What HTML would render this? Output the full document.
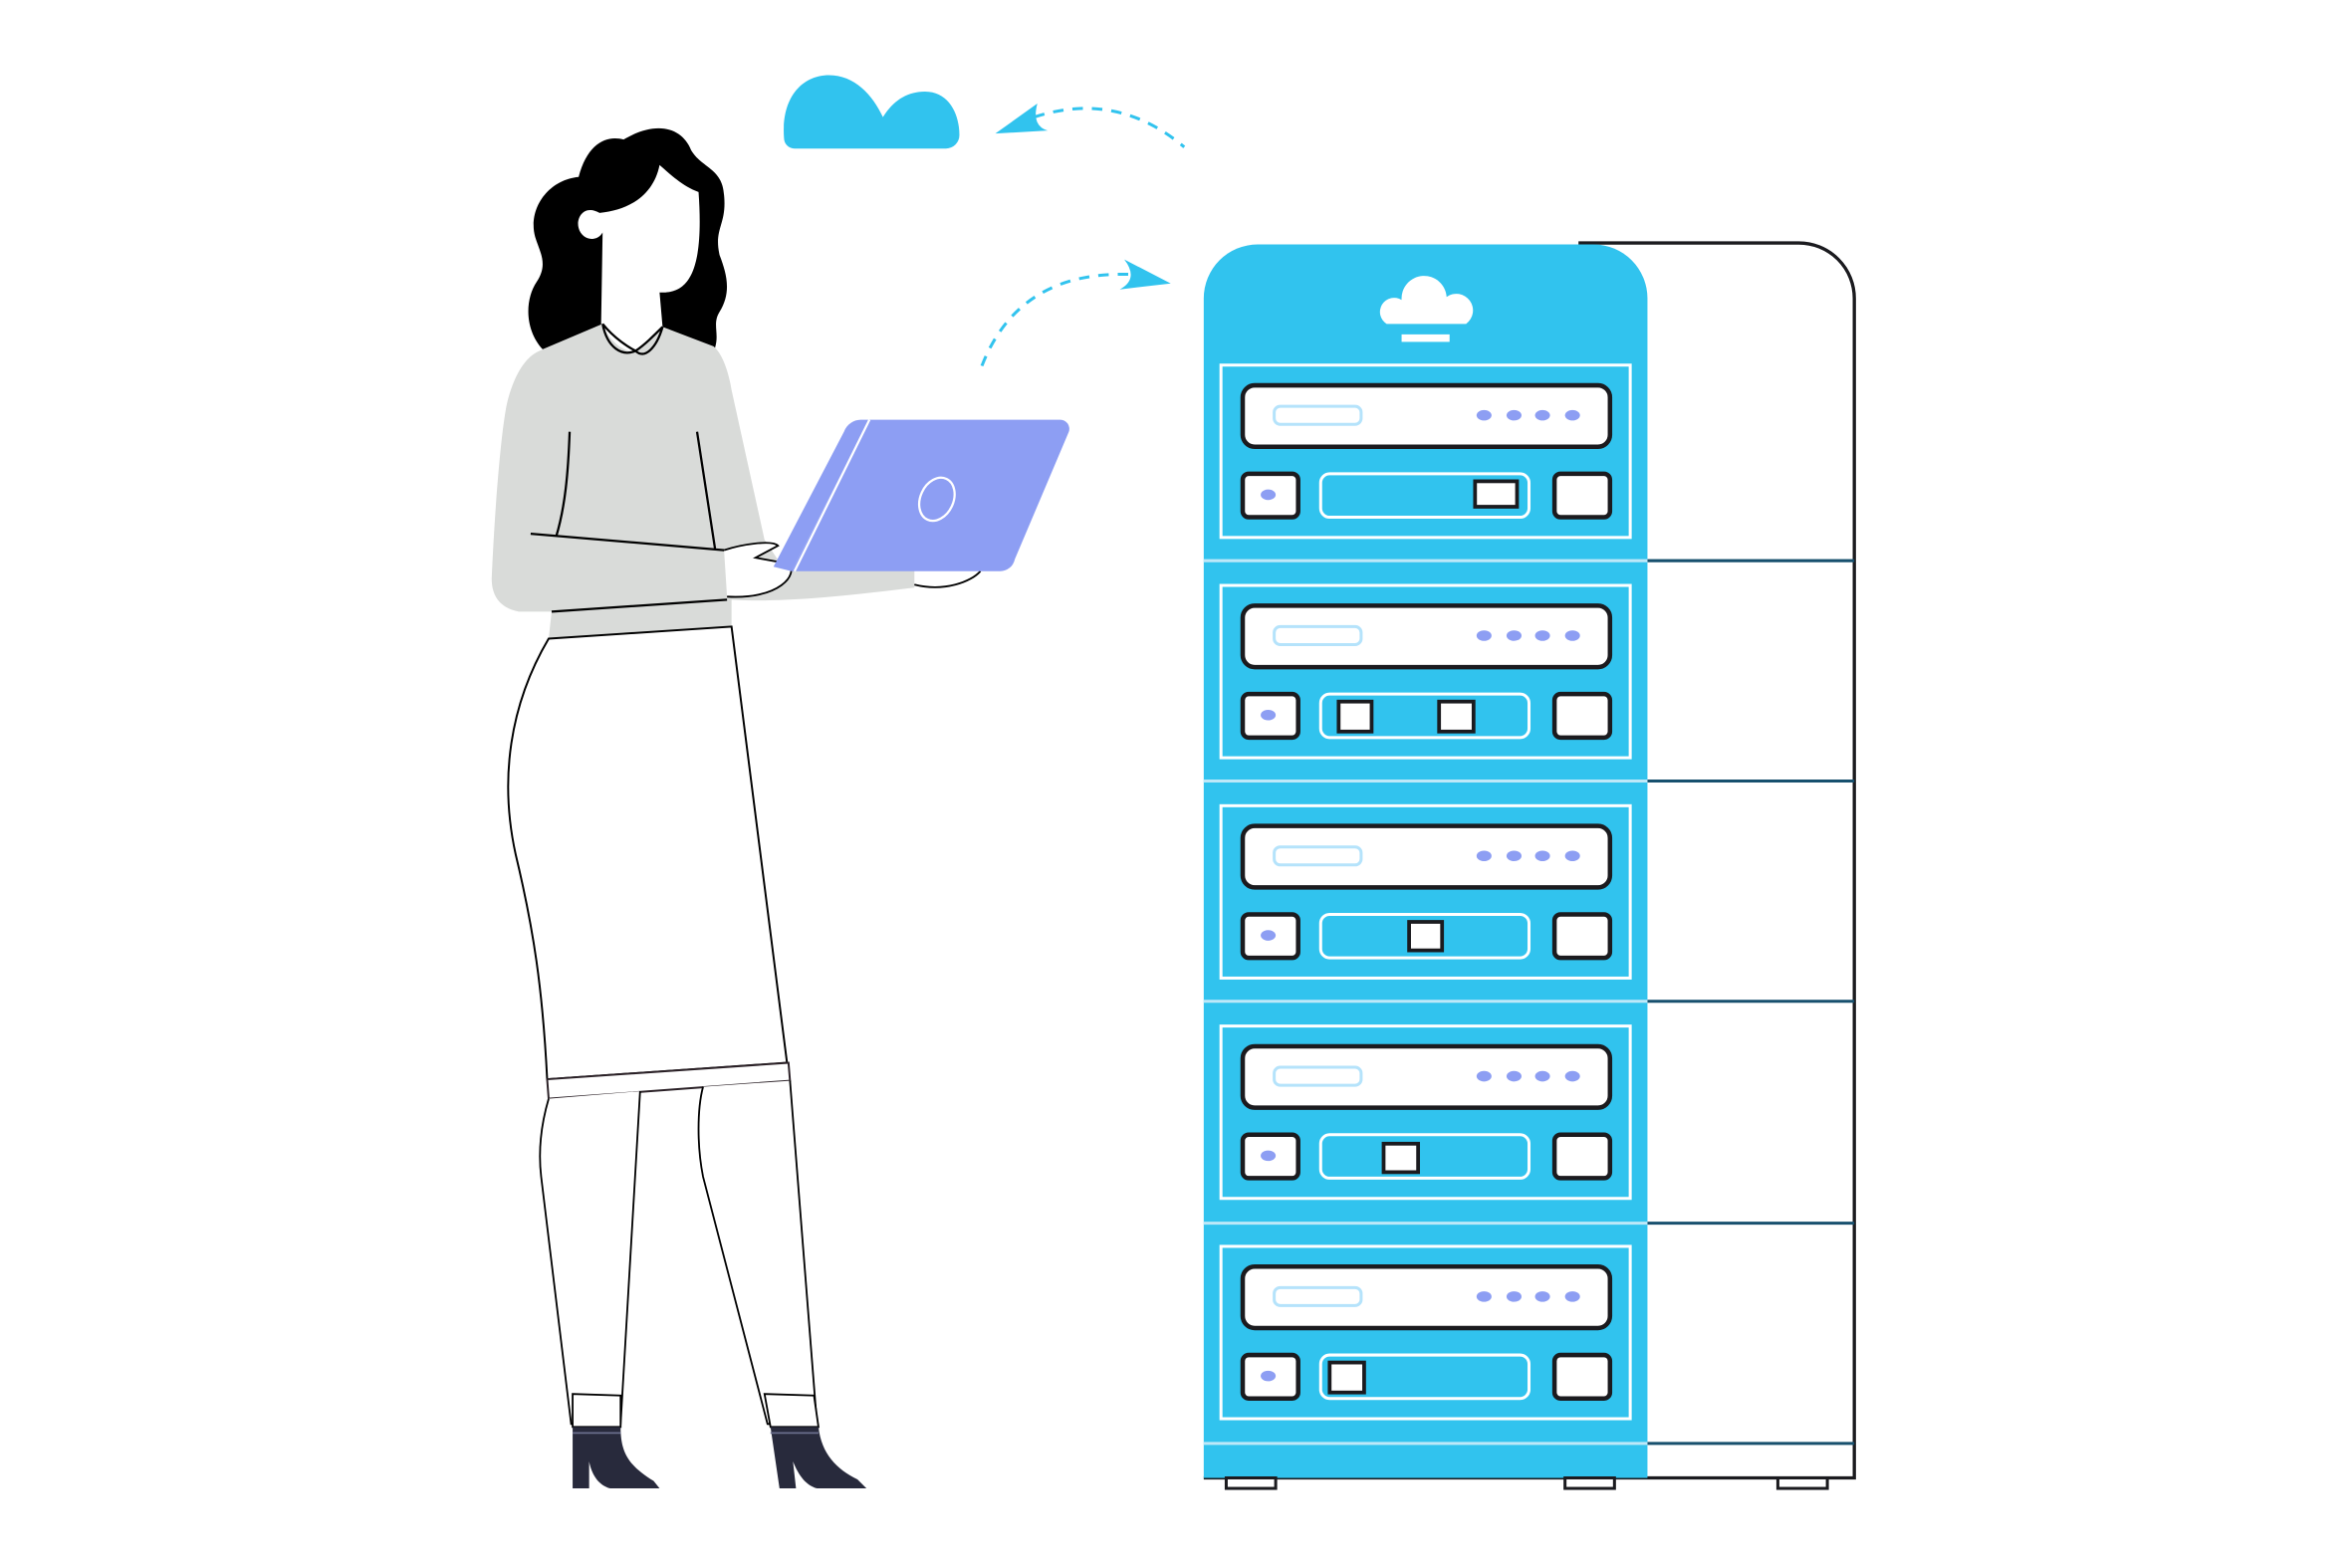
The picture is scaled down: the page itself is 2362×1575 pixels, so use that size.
<!DOCTYPE html>
<html><head><meta charset="utf-8"><style>html,body{margin:0;padding:0;background:#fff}svg{display:block}</style></head><body>
<svg width="2362" height="1575" viewBox="0 0 1569 1046" xmlns="http://www.w3.org/2000/svg">
<rect width="1569" height="1046" fill="#fff"/>
<!-- back frame -->
<path d="M1053 162 H1200 A37 37 0 0 1 1237 199 V986 H803" fill="none" stroke="#1b1b1f" stroke-width="2.2"/>
<g stroke="#17506e" stroke-width="2"><line x1="1099" y1="374" x2="1237" y2="374"/><line x1="1099" y1="521" x2="1237" y2="521"/><line x1="1099" y1="668" x2="1237" y2="668"/><line x1="1099" y1="816" x2="1237" y2="816"/><line x1="1099" y1="963" x2="1237" y2="963"/></g>
<!-- tower -->
<path d="M803 986 V199 A36 36 0 0 1 839 163 H1063 A36 36 0 0 1 1099 199 V986 Z" fill="#31c3ee"/>
<g stroke="#bde8f8" stroke-width="2"><line x1="803" y1="374" x2="1099" y2="374"/><line x1="803" y1="521" x2="1099" y2="521"/><line x1="803" y1="668" x2="1099" y2="668"/><line x1="803" y1="816" x2="1099" y2="816"/><line x1="803" y1="963" x2="1099" y2="963"/></g>
<path d="M925 216 A9 9 0 1 1 935 200 A15 15 0 0 1 965 198 A10 10 0 0 1 978 216 Z" fill="#fff"/>
<rect x="935" y="223" width="32" height="5" fill="#fff"/>
<g id="m">
<rect x="814.5" y="243.5" width="273" height="115" fill="none" stroke="#fff" stroke-width="2"/>
<rect x="829" y="257" width="245" height="41" rx="8" fill="#fff" stroke="#1b1b1f" stroke-width="3"/>
<rect x="850" y="271" width="58" height="12" rx="4" fill="none" stroke="#b5e3fb" stroke-width="2"/>
<g fill="#8d9ef3"><ellipse cx="990" cy="277" rx="5" ry="3.5"/><ellipse cx="1010" cy="277" rx="5" ry="3.5"/><ellipse cx="1029" cy="277" rx="5" ry="3.5"/><ellipse cx="1049" cy="277" rx="5" ry="3.5"/></g>
<rect x="829" y="316" width="37" height="29" rx="4" fill="#fff" stroke="#1b1b1f" stroke-width="3"/>
<ellipse cx="846" cy="330" rx="5" ry="3.5" fill="#8d9ef3"/>
<rect x="881" y="316" width="139" height="29" rx="6" fill="none" stroke="#fff" stroke-width="2"/>
<rect x="1037" y="316" width="37" height="29" rx="4" fill="#fff" stroke="#1b1b1f" stroke-width="3"/>
</g>
<use href="#m" y="147"/><use href="#m" y="294"/><use href="#m" y="441"/><use href="#m" y="588"/>
<g fill="#fff" stroke="#1b1b1f" stroke-width="2.5">
<rect x="984" y="321" width="28" height="17"/>
<rect x="893" y="468" width="22" height="20"/><rect x="960" y="468" width="23" height="20"/>
<rect x="940" y="615" width="22" height="19"/>
<rect x="923" y="763" width="23" height="19"/>
<rect x="887" y="909" width="23" height="20"/>
</g>
<g fill="#fff" stroke="#1b1b1f" stroke-width="2"><rect x="818" y="986" width="33" height="7"/><rect x="1044" y="986" width="33" height="7"/><rect x="1186" y="986" width="33" height="7"/></g>
<!-- cloud & arrows -->
<path d="M530 99 A7 7 0 0 1 523 92 C521 65 535 50 553 50 C570 50 582 63 589 78 C596 67 605 61 617 61 C633 61 640 76 640 90 A9 9 0 0 1 631 99 Z" fill="#31c3ee"/>
<path d="M690 78 Q745 60 790 98" fill="none" stroke="#31c3ee" stroke-width="2" stroke-dasharray="7 6"/>
<path d="M664 89 L692 69 Q688 84 699 87 Z" fill="#31c3ee"/>
<path d="M655 244 Q680 180 755 183" fill="none" stroke="#31c3ee" stroke-width="2" stroke-dasharray="7 6"/>
<path d="M781 189 L750 173 Q760 186 747 193 Z" fill="#31c3ee"/>
<!-- woman -->
<path d="M362 233 C350 220 350 200 358 188 C366 176 360 168 357 158 C352 140 365 120 386 118 C392 95 405 90 416 93 C438 80 455 85 461 100 C468 112 482 112 483 130 C485 150 476 152 480 170 C485 183 488 195 480 208 C475 216 480 222 477 232 L442 218 L402 216 Z" fill="#000"/>
<path d="M402 155 L401 216 C410 228 418 234 424 234 C432 228 438 222 442 218 L440 195 C458 196 470 184 466 128 C455 124 447 116 440 110 C436 130 420 140 400 142 C390 136 384 145 386 152 C388 160 398 162 402 155 Z" fill="#fff"/>
<path d="M360 234 L402 216 C406 228 418 236 424 234 C432 228 438 222 442 218 L476 231 C482 236 486 248 488 260 L510 360 L520 375 L610 380 L610 392 C560 398 520 402 488 400 L488 418 L366 426 L368 408 L346 408 C336 406 328 400 328 386 C330 340 334 290 338 270 C342 252 350 238 360 234 Z" fill="#d9dbd9"/>
<path d="M402 216 C405 232 415 238 424 234 M442 218 C438 232 430 240 424 234 M402 216 C410 226 420 232 424 234 C430 230 436 224 442 218" fill="none" stroke="#000" stroke-width="1.5"/>
<path d="M380 288 C379 316 377 338 371 358 M465 288 L477 366 M354 356 L483 367 M368 408 L485 400" fill="none" stroke="#000" stroke-width="1.5"/>
<path d="M483 367 C495 363 515 360 519 364 L504 372 L526 376 C533 383 520 400 485 398" fill="#fff" stroke="#000" stroke-width="1.2"/>
<path d="M610 390 C630 395 648 388 654 381" fill="none" stroke="#000" stroke-width="1.2"/>
<!-- laptop -->
<path d="M580 280 H707 A6 6 0 0 1 713 288 L677 373 A10 10 0 0 1 667 381 H528 Z" fill="#8d9ef3"/>
<path d="M580 280 H575 A12 12 0 0 0 563 288 L516 378 L528 381 Z" fill="#8d9ef3"/>
<line x1="580" y1="280" x2="530" y2="381" stroke="#fff" stroke-width="1.5"/>
<ellipse cx="625" cy="333" rx="11" ry="15" transform="rotate(25 625 333)" fill="none" stroke="#fff" stroke-width="1.5"/>
<!-- skirt -->
<path d="M366 426 L488 418 L525 709 L365 720 C362 660 356 620 344 570 C333 520 340 470 366 426 Z" fill="#fff" stroke="#000" stroke-width="1.3"/>
<path d="M365 720 L526 709 L527 721 L366 733 Z" fill="#fff" stroke="#2a2026" stroke-width="1.3"/>
<!-- legs -->
<path d="M366 733 C361 750 359 768 361 785 L381 950 L414 950 L427 728 M469 725 C465 740 465 765 469 785 L512 950 L545 950 L527 721" fill="#fff" stroke="#000" stroke-width="1.2"/>
<path d="M382 930 L414 931 L414 952 L382 952 Z M510 930 L543 931 L546 952 L514 952 Z" fill="#fff" stroke="#000" stroke-width="1.2"/>
<path d="M382 952 H414 C414 970 420 978 436 988 L440 993 H407 C400 991 395 985 393 975 L393 993 H382 Z" fill="#282a3c"/>
<path d="M514 952 H546 C548 970 558 980 572 987 L578 993 H545 C538 991 533 985 529 975 L531 993 H520 Z" fill="#282a3c"/>
<path d="M382 956 H414 M514 956 H546" stroke="#6a6e8c" stroke-width="1.2"/>
</svg>
</body></html>
